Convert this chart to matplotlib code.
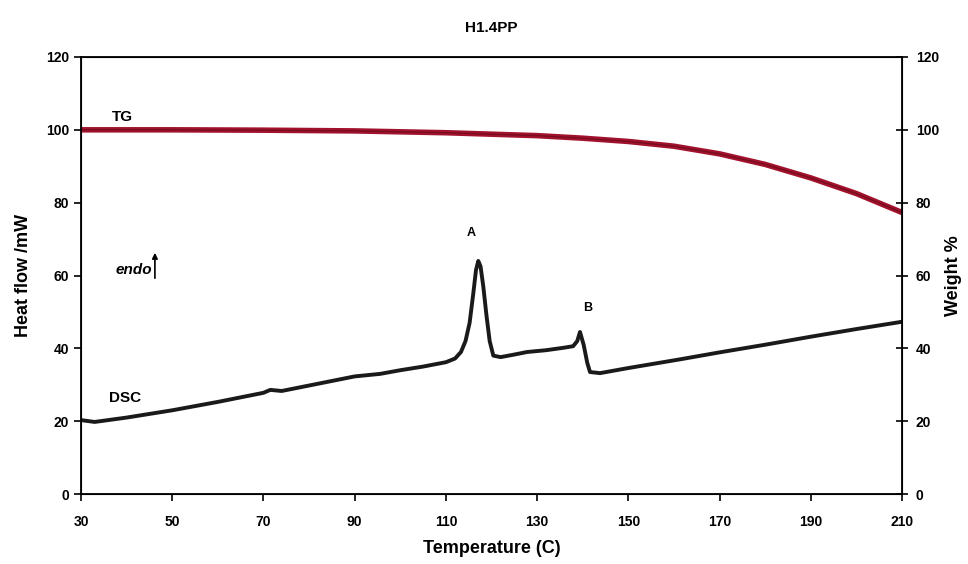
import matplotlib
matplotlib.use("Agg")
import matplotlib.pyplot as plt

plt.rcParams['font.family'] = ['Liberation Sans', 'DejaVu Sans']
plt.rcParams['font.weight'] = 'bold'

# DSC trace (heat flow, mW)
dsc_temp = [30, 33, 40, 50, 60, 70, 71.5, 74, 80, 90, 95.6, 100, 105, 110, 112, 113.3,
            114.3, 115.2, 116.0, 116.6, 117.1, 117.6, 118.2, 118.9, 119.6, 120.4, 122,
            125, 127.8, 132, 136, 137.9, 138.8, 139.4, 140.2, 141, 141.6, 143.8, 150,
            161.4, 170, 180, 190, 200, 210]
dsc_flow = [20.3, 19.8, 21.0, 23.0, 25.3, 27.8, 28.6, 28.3, 29.8, 32.3, 33.0, 34.0,
            35.0, 36.2, 37.2, 39.0, 42.0, 47.0, 55.0, 61.5, 64.0, 62.5, 57.0, 49.0,
            42.0, 38.0, 37.6, 38.3, 39.0, 39.5, 40.2, 40.6, 42.0, 44.5, 41.0, 36.0,
            33.5, 33.2, 34.6, 37.0, 38.9, 41.0, 43.2, 45.3, 47.3]

# TG trace (weight %)
tg_temp = [30, 50, 70, 90, 110, 130, 140, 150, 160, 170, 180, 190, 200, 210]
tg_weight = [100.0, 100.0, 99.9, 99.7, 99.2, 98.4, 97.7, 96.8, 95.5, 93.4, 90.5, 86.8, 82.5, 77.3]

x_ticks = [30, 50, 70, 90, 110, 130, 150, 170, 190, 210]
y_ticks = [0, 20, 40, 60, 80, 100, 120]

fig = plt.figure(figsize=(9.68, 5.64), dpi=100)
ax = fig.add_axes([0.0837, 0.124, 0.8481, 0.775])

ax.plot(tg_temp, tg_weight, color='#a3122c', lw=4, solid_capstyle='butt')
ax.plot(tg_temp, tg_weight, color='#5a0a18', lw=1.0, alpha=0.6)
ax.plot(dsc_temp, dsc_flow, color='#1a1a1a', lw=2.8, solid_joinstyle='round')

ax.set_xlim(30, 210)
ax.set_ylim(0, 120)
ax.set_xticks(x_ticks)
ax.set_yticks(y_ticks)
ax.tick_params(axis='both', labelsize=10, width=1.2, length=5, direction='out')
ax.tick_params(axis='x', pad=10)
for lab in ax.get_xticklabels() + ax.get_yticklabels():
    lab.set_fontweight('bold')
for s in ax.spines.values():
    s.set_linewidth(1.3)

ax2 = ax.twinx()
ax2.set_ylim(0, 120)
ax2.set_yticks(y_ticks)
ax2.tick_params(axis='y', labelsize=10, width=1.2, length=8, direction='inout', pad=6)
for lab in ax2.get_yticklabels():
    lab.set_fontweight('bold')

ax.set_xlabel('Temperature (C)', fontsize=13, fontweight='bold', labelpad=8)
ax.set_ylabel('Heat flow /mW', fontsize=13, fontweight='bold', labelpad=10)
ax2.set_ylabel('Weight %', fontsize=13, fontweight='bold', labelpad=4)
ax.set_title('H1.4PP', fontsize=11, fontweight='bold', pad=18)

ax.text(39, 103.5, 'TG', fontsize=11, fontweight='bold', ha='center', va='center')
ax.text(39.6, 26.4, 'DSC', fontsize=11, fontweight='bold', ha='center', va='center')
ax.text(115.5, 71.6, 'A', fontsize=9, fontweight='bold', ha='center', va='center')
ax.text(141, 51, 'B', fontsize=9, fontweight='bold', ha='center', va='center')
ax.text(41.5, 61.5, 'endo', fontsize=11, fontweight='bold', style='italic',
        ha='center', va='center')
ax.annotate('', xy=(46.2, 67), xytext=(46.2, 58.5),
            arrowprops=dict(arrowstyle='-|>', color='black', lw=1.2, mutation_scale=8))

fig.savefig('out.png', dpi=100)
